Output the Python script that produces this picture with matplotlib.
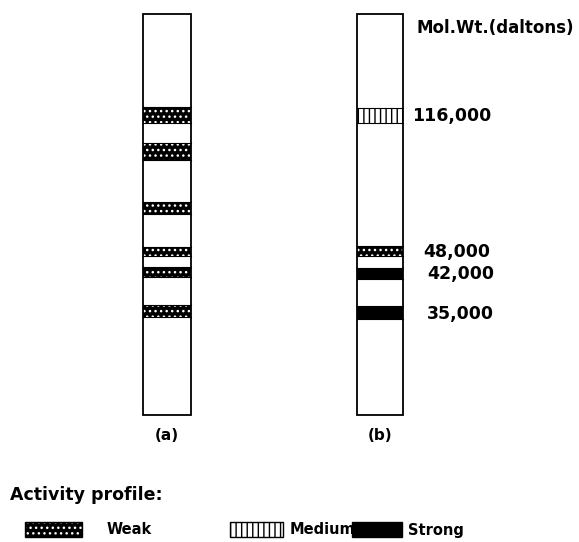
import matplotlib
matplotlib.use("Agg")
import matplotlib.pyplot as plt
from matplotlib.patches import Rectangle

# gel lanes: band limits as migration distance from the top of the lane
lane_names = ["(a)", "(b)"]
lane_a_bands = [(93, 109), (129, 146), (188, 200), (233, 242), (253, 263), (291, 303)]
lane_a_kinds = ["weak"] * 6
lane_b_bands = [(94, 109), (232, 242), (254, 265), (292, 305)]
lane_b_kinds = ["medium", "weak", "strong", "strong"]
mol_wt_labels = ["116,000", "48,000", "42,000", "35,000"]
legend_kinds = ["weak", "medium", "strong"]
legend_names = ["Weak", "Medium", "Strong"]

lane_length = 401
lane_top = 14
lane_x = [(142.5, 190.5), (357, 403)]
label_x = [412, 423, 427, 427]

styles = {
    "weak": dict(facecolor="black", edgecolor="white", hatch="..."),
    "medium": dict(facecolor="white", edgecolor="black", hatch="|||"),
    "strong": dict(facecolor="black", edgecolor="black", hatch=None),
}

plt.rcParams["hatch.linewidth"] = 1.0
base = dict(family="DejaVu Sans", fontweight="bold")

fig = plt.figure(figsize=(5.79, 5.42), dpi=100)
ax = fig.add_axes([0, 0, 1, 1])
ax.set_xlim(0, 579)
ax.set_ylim(542, 0)
ax.axis("off")


def draw_band(x0, x1, y0, y1, kind):
    st = styles[kind]
    r = Rectangle((x0, y0), x1 - x0, y1 - y0, facecolor=st["facecolor"],
                  edgecolor=st["edgecolor"], hatch=st["hatch"], lw=0)
    ax.add_patch(r)
    ax.plot([x0, x1], [y0, y0], color="black", lw=0.8)
    ax.plot([x0, x1], [y1, y1], color="black", lw=0.8)


for i, bands in enumerate([lane_a_bands, lane_b_bands]):
    kinds = [lane_a_kinds, lane_b_kinds][i]
    x0, x1 = lane_x[i]
    for (s, e), k in zip(bands, kinds):
        draw_band(x0, x1, lane_top + s, lane_top + e, k)
    ax.add_patch(Rectangle((x0, lane_top), x1 - x0, lane_length, fill=False,
                           edgecolor="black", lw=1.3))
    ax.text((x0 + x1) / 2, 436, lane_names[i], ha="center", va="center",
            fontsize=11, **base)

ax.text(417, 28, "Mol.Wt.(daltons)", ha="left", va="center", fontsize=12, **base)
for (s, e), lab, lx in zip(lane_b_bands, mol_wt_labels, label_x):
    ax.text(lx, lane_top + (s + e) / 2 + 1, lab, ha="left", va="center",
            fontsize=12.5, **base)

# legend
ax.text(10, 495, "Activity profile:", ha="left", va="center", fontsize=12.5, **base)
sw_x = [(25, 82), (230, 283), (352, 402)]
txt_x = [107, 290, 408]
for (x0, x1), k, name, tx in zip(sw_x, legend_kinds, legend_names, txt_x):
    st = styles[k]
    ax.add_patch(Rectangle((x0, 522), x1 - x0, 15, facecolor=st["facecolor"],
                           edgecolor=st["edgecolor"], hatch=st["hatch"], lw=0))
    ax.add_patch(Rectangle((x0, 522), x1 - x0, 15, fill=False, edgecolor="black", lw=1.0))
    ax.text(tx, 530, name, ha="left", va="center", fontsize=10.5, **base)

fig.savefig("out.png", dpi=100)
